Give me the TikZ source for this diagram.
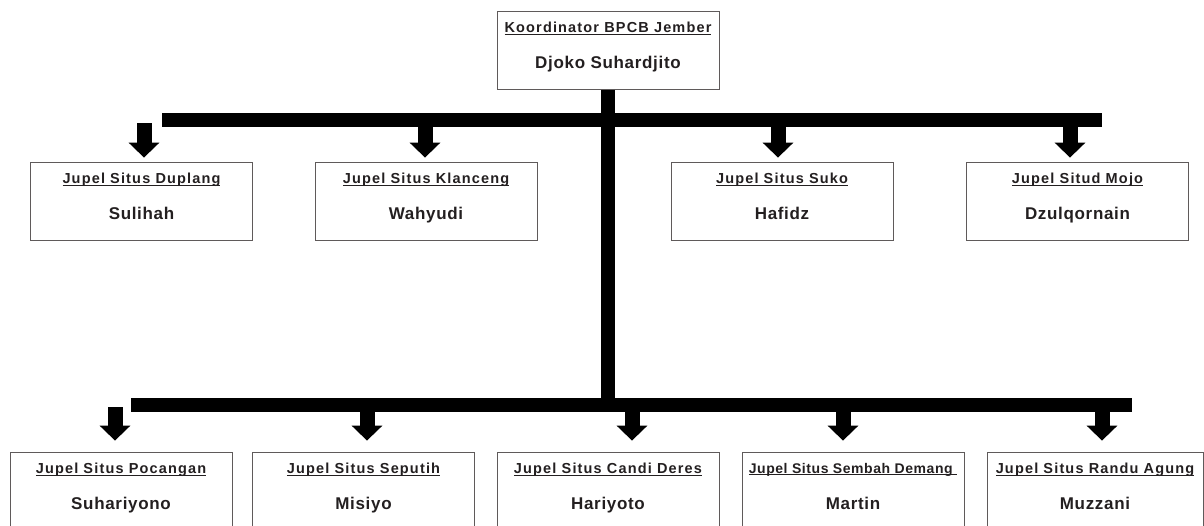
\documentclass[tikz,border=0pt]{standalone}
\usepackage{fontspec}
\setmainfont{Liberation Sans}
\newfontfamily\headfont{Liberation Sans}[LetterSpace=8]
\newfontfamily\tightfont{Liberation Sans}[LetterSpace=4]
\newfontfamily\namefont{Liberation Sans}[LetterSpace=4]
\usetikzlibrary{arrows.meta,positioning,calc}
\definecolor{inkgray}{RGB}{35,31,32}
\definecolor{framegray}{RGB}{95,90,90}
\newcommand{\ttl}[1]{\setbox0\hbox{#1}\rlap{\rule[-2.2pt]{\wd0}{0.9pt}}\box0}
\newcommand{\nm}[1]{{\namefont\bfseries\fontsize{17}{20}\selectfont #1}}
\tikzset{
  orgbox/.style={draw=framegray,line width=0.8pt,minimum width=222pt,minimum height=78pt,
    inner sep=0pt,align=center,text depth=10pt,text=inkgray,
    font=\headfont\bfseries\fontsize{14.5}{16}\selectfont},
  orgboxtight/.style={orgbox,font=\tightfont\bfseries\fontsize{14}{16}\selectfont},
  bus/.style={line width=14pt,draw=black},
  drop/.style={-{Triangle[length=15pt,width=30pt]},line width=15pt,draw=black}
}

\begin{document}
\begin{tikzpicture}[x=1pt,y=-1pt]
  \useasboundingbox (0,0) rectangle (1204,525);
  % coordinator
  \node[orgbox] (boss) at (608,50.5) {\ttl{Koordinator BPCB Jember}\\[20pt]\nm{Djoko Suhardjito}};
  % first row
  \node[orgbox] (duplang) at (141.5,201) {\ttl{Jupel Situs Duplang}\\[20pt]\nm{Sulihah}};
  \node[orgbox] (klanceng) at (426,201) {\ttl{Jupel Situs Klanceng}\\[20pt]\nm{Wahyudi}};
  \node[orgbox] (suko) at (782,201) {\ttl{Jupel Situs Suko}\\[20pt]\nm{Hafidz}};
  \node[orgbox] (mojo) at (1077.5,201) {\ttl{Jupel Situd Mojo}\\[20pt]\nm{Dzulqornain}};
  % second row
  \node[orgbox] (pocangan) at (121,491) {\ttl{Jupel Situs Pocangan}\\[20pt]\nm{Suhariyono}};
  \node[orgbox] (seputih) at (363.5,491) {\ttl{Jupel Situs Seputih}\\[20pt]\nm{Misiyo}};
  \node[orgbox] (candi) at (608,491) {\ttl{Jupel Situs Candi Deres}\\[20pt]\nm{Hariyoto}};
  \node[orgboxtight] (sembah) at (853,491) {\ttl{Jupel Situs Sembah Demang }\\[20pt]\nm{Martin}};
  \node[orgbox,minimum width=216pt] (randu) at (1095,491) {\ttl{Jupel Situs Randu Agung}\\[20pt]\nm{Muzzani}};
  % bars
  \coordinate (bus1w) at (162,120);
  \coordinate (bus1e) at (1102,120);
  \coordinate (bus2w) at (131,405);
  \coordinate (bus2e) at (1132,405);
  \draw[bus] (boss.south) -- (boss.south |- bus2w);
  \draw[bus] (bus1w) -- (bus1e);
  \draw[bus] (bus2w) -- (bus2e);
  % drops to first row
  \coordinate (d1) at (144,123);
  \coordinate (d2) at (425,123);
  \coordinate (d3) at (778,123);
  \coordinate (d4) at (1070,123);
  \draw[drop,shorten >=4pt] (d1) -- (d1 |- duplang.north);
  \draw[drop,shorten >=4pt] (d2) -- (d2 |- klanceng.north);
  \draw[drop,shorten >=4pt] (d3) -- (d3 |- suko.north);
  \draw[drop,shorten >=4pt] (d4) -- (d4 |- mojo.north);
  % drops to second row
  \coordinate (e1) at (115,407);
  \coordinate (e2) at (367,407);
  \coordinate (e3) at (632,407);
  \coordinate (e4) at (843,407);
  \coordinate (e5) at (1102,407);
  \draw[drop,shorten >=11pt] (e1) -- (e1 |- pocangan.north);
  \draw[drop,shorten >=11pt] (e2) -- (e2 |- seputih.north);
  \draw[drop,shorten >=11pt] (e3) -- (e3 |- candi.north);
  \draw[drop,shorten >=11pt] (e4) -- (e4 |- sembah.north);
  \draw[drop,shorten >=11pt] (e5) -- (e5 |- randu.north);
\end{tikzpicture}
\end{document}
